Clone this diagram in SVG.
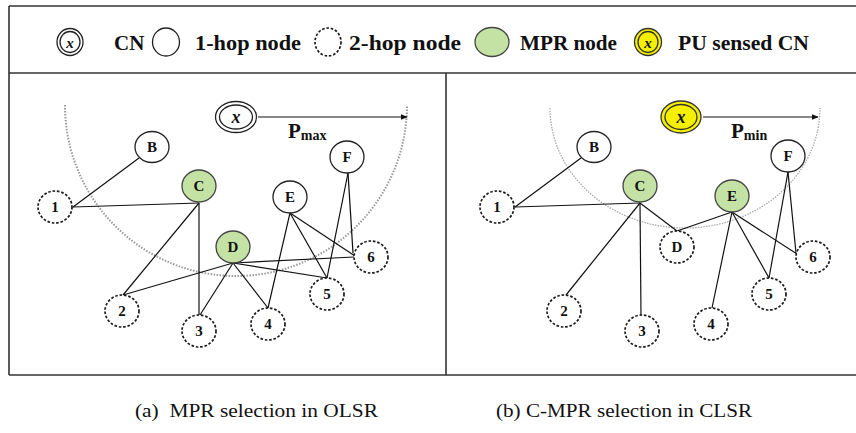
<svg xmlns="http://www.w3.org/2000/svg" width="856" height="433" viewBox="0 0 856 433">
  <style>
    .frame { stroke: #333; stroke-width: 1.6; fill: none; }
    .node { fill: #fff; stroke: #222; stroke-width: 1.3; }
    .hop2 { fill: #fff; stroke: #1a1a1a; stroke-width: 1.7; stroke-dasharray: 2.6 1.8; }
    .mpr { fill: #c3e2a4; stroke: #444; stroke-width: 1.3; }
    .pu { fill: #f5f000; stroke: #333; stroke-width: 1.3; }
    .lbl { font-family: 'Liberation Serif', 'Times New Roman', serif; font-weight: bold; font-size: 15px; text-anchor: middle; fill: #111; }
    .leg { font-family: 'Liberation Serif', 'Times New Roman', serif; font-weight: bold; font-size: 21px; fill: #111; }
    .cap { font-family: 'Liberation Serif', 'Times New Roman', serif; font-size: 19px; fill: #111; }
    .xv { font-family: 'Liberation Serif', 'Times New Roman', serif; font-weight: bold; font-style: italic; text-anchor: middle; fill: #111; }
    .edge { stroke: #111; stroke-width: 1.2; fill: none; }
    .range1 { stroke: #999; stroke-width: 2; stroke-dasharray: 1.5 1.5; fill: none; }
    .range2 { stroke: #aaa; stroke-width: 1.3; stroke-dasharray: 1.5 1.2; fill: none; }
  </style>
  <defs>
    <marker id="arrow" viewBox="0 0 10 10" refX="9" refY="5" markerWidth="7" markerHeight="7" orient="auto" markerUnits="userSpaceOnUse">
      <path d="M0,1 L10,5 L0,9 Z" fill="#111"/>
    </marker>
  </defs>

  <!-- frame -->
  <g id="frame">
    <line class="frame" x1="9" y1="6" x2="856" y2="6"/>
    <line class="frame" x1="9" y1="73" x2="856" y2="73"/>
    <line class="frame" x1="9" y1="375" x2="856" y2="375"/>
    <line class="frame" x1="9" y1="6" x2="9" y2="375"/>
    <line class="frame" x1="446" y1="73" x2="446" y2="375"/>
  </g>

  <!-- legend -->
  <g id="legend">
    <ellipse class="node" cx="70" cy="42" rx="13" ry="13.5"/>
    <ellipse class="node" cx="70" cy="42" rx="10" ry="10.5"/>
    <text class="xv" x="70" y="47.5" font-size="15">x</text>
    <text class="leg" x="114" y="50">CN</text>
    <ellipse class="node" cx="166" cy="42" rx="13.5" ry="14"/>
    <text class="leg" x="195" y="50" textLength="106" lengthAdjust="spacingAndGlyphs">1-hop node</text>
    <ellipse class="hop2" cx="328" cy="42" rx="13" ry="14"/>
    <text class="leg" x="349" y="50" textLength="112" lengthAdjust="spacingAndGlyphs">2-hop node</text>
    <ellipse class="mpr" cx="492" cy="42" rx="17" ry="14.5"/>
    <text class="leg" x="520" y="50" textLength="97" lengthAdjust="spacingAndGlyphs">MPR node</text>
    <ellipse class="pu" cx="648" cy="42" rx="13.5" ry="13.5"/>
    <ellipse class="pu" cx="648" cy="42" rx="10" ry="10.5"/>
    <text class="xv" x="648" y="47.5" font-size="15">x</text>
    <text class="leg" x="678" y="50" textLength="131" lengthAdjust="spacingAndGlyphs">PU sensed CN</text>
  </g>

  <!-- (a) transmission range -->
  <path class="range1" d="M65,105 A171,171 0 0 0 407,105"/>
  <!-- (b) transmission range -->
  <path class="range2" d="M550,108 A135,120 0 1 0 820,108"/>

  <!-- connectors -->
  <g id="connectors">
    <!-- (a) -->
    <line class="edge" x1="258" y1="117" x2="407" y2="117" marker-end="url(#arrow)"/>
    <line class="edge" x1="73" y1="207" x2="139" y2="158"/>
    <line class="edge" x1="73" y1="207" x2="199" y2="203"/>
    <line class="edge" x1="199" y1="203" x2="123" y2="295"/>
    <line class="edge" x1="199" y1="203" x2="199" y2="315"/>
    <line class="edge" x1="233" y1="263" x2="123" y2="295"/>
    <line class="edge" x1="233" y1="263" x2="200" y2="315"/>
    <line class="edge" x1="233" y1="263" x2="268" y2="308"/>
    <line class="edge" x1="233" y1="263" x2="354" y2="257"/>
    <line class="edge" x1="233" y1="263" x2="327" y2="278"/>
    <line class="edge" x1="290" y1="213" x2="268" y2="308"/>
    <line class="edge" x1="290" y1="213" x2="327" y2="278"/>
    <line class="edge" x1="290" y1="213" x2="355" y2="256"/>
    <line class="edge" x1="348" y1="173" x2="327" y2="278"/>
    <line class="edge" x1="348" y1="173" x2="353" y2="253"/>
    <!-- (b) -->
    <line class="edge" x1="703" y1="117" x2="818" y2="117" marker-end="url(#arrow)"/>
    <line class="edge" x1="515" y1="207" x2="581" y2="158"/>
    <line class="edge" x1="515" y1="207" x2="640" y2="203"/>
    <line class="edge" x1="640" y1="203" x2="566" y2="295"/>
    <line class="edge" x1="640" y1="203" x2="641" y2="315"/>
    <line class="edge" x1="640" y1="203" x2="677" y2="231"/>
    <line class="edge" x1="732" y1="212" x2="677" y2="231"/>
    <line class="edge" x1="732" y1="212" x2="712" y2="308"/>
    <line class="edge" x1="732" y1="212" x2="769" y2="278"/>
    <line class="edge" x1="732" y1="212" x2="797" y2="254"/>
    <line class="edge" x1="788" y1="172" x2="769" y2="278"/>
    <line class="edge" x1="788" y1="172" x2="796" y2="253"/>
  </g>

  <!-- (a) nodes -->
  <g id="a-cn">
    <ellipse class="node" cx="236" cy="117" rx="20.5" ry="15.5"/>
    <ellipse class="node" cx="236" cy="117" rx="16.5" ry="12"/>
    <text class="xv" x="236" y="123" font-size="18">x</text>
  </g>
  <g id="a-pmax">
    <text class="leg" x="288" y="138" font-size="25">P<tspan font-size="14" dy="2">max</tspan></text>
  </g>
  <g id="a-B"><ellipse class="node" cx="152" cy="147" rx="17" ry="15.5"/><text class="lbl" x="152" y="152">B</text></g>
  <g id="a-C"><ellipse class="mpr" cx="199" cy="186" rx="17" ry="16"/><text class="lbl" x="199" y="191">C</text></g>
  <g id="a-E"><ellipse class="node" cx="290" cy="197" rx="17" ry="16"/><text class="lbl" x="290" y="202">E</text></g>
  <g id="a-F"><ellipse class="node" cx="347" cy="157" rx="17" ry="16"/><text class="lbl" x="347" y="162">F</text></g>
  <g id="a-D"><ellipse class="mpr" cx="233" cy="247" rx="17" ry="16"/><text class="lbl" x="233" y="252">D</text></g>
  <g id="a-1"><ellipse class="hop2" cx="55" cy="207" rx="17" ry="16"/><text class="lbl" x="55" y="212">1</text></g>
  <g id="a-2"><ellipse class="hop2" cx="122" cy="311" rx="17" ry="16"/><text class="lbl" x="122" y="316">2</text></g>
  <g id="a-3"><ellipse class="hop2" cx="199" cy="331" rx="17" ry="16"/><text class="lbl" x="199" y="336">3</text></g>
  <g id="a-4"><ellipse class="hop2" cx="268" cy="324" rx="17" ry="16"/><text class="lbl" x="268" y="329">4</text></g>
  <g id="a-5"><ellipse class="hop2" cx="327" cy="294" rx="17" ry="16"/><text class="lbl" x="327" y="299">5</text></g>
  <g id="a-6"><ellipse class="hop2" cx="371" cy="257" rx="17" ry="16"/><text class="lbl" x="371" y="262">6</text></g>

  <!-- (b) nodes -->
  <g id="b-cn">
    <ellipse class="pu" cx="681" cy="117" rx="20" ry="16"/>
    <ellipse class="pu" cx="681" cy="117" rx="16" ry="12.5"/>
    <text class="xv" x="681" y="123" font-size="18">x</text>
  </g>
  <g id="b-pmin">
    <text class="leg" x="731" y="138" font-size="25">P<tspan font-size="14" dy="2">min</tspan></text>
  </g>
  <g id="b-B"><ellipse class="node" cx="594" cy="147" rx="17" ry="15.5"/><text class="lbl" x="594" y="152">B</text></g>
  <g id="b-C"><ellipse class="mpr" cx="640" cy="186" rx="17" ry="16"/><text class="lbl" x="640" y="191">C</text></g>
  <g id="b-E"><ellipse class="mpr" cx="732" cy="196" rx="17" ry="16"/><text class="lbl" x="732" y="201">E</text></g>
  <g id="b-F"><ellipse class="node" cx="788" cy="156" rx="17" ry="16"/><text class="lbl" x="788" y="161">F</text></g>
  <g id="b-D"><ellipse class="hop2" cx="677" cy="247" rx="17" ry="16"/><text class="lbl" x="677" y="252">D</text></g>
  <g id="b-1"><ellipse class="hop2" cx="497" cy="207" rx="17" ry="16"/><text class="lbl" x="497" y="212">1</text></g>
  <g id="b-2"><ellipse class="hop2" cx="564" cy="311" rx="17" ry="16"/><text class="lbl" x="564" y="316">2</text></g>
  <g id="b-3"><ellipse class="hop2" cx="642" cy="331" rx="17" ry="16"/><text class="lbl" x="642" y="336">3</text></g>
  <g id="b-4"><ellipse class="hop2" cx="711" cy="324" rx="17" ry="16"/><text class="lbl" x="711" y="329">4</text></g>
  <g id="b-5"><ellipse class="hop2" cx="769" cy="294" rx="17" ry="16"/><text class="lbl" x="769" y="299">5</text></g>
  <g id="b-6"><ellipse class="hop2" cx="813" cy="257" rx="17" ry="16"/><text class="lbl" x="813" y="262">6</text></g>

  <!-- captions -->
  <text class="cap" x="135" y="417" textLength="243" lengthAdjust="spacingAndGlyphs" xml:space="preserve">(a)  MPR selection in OLSR</text>
  <text class="cap" x="496" y="417" textLength="256" lengthAdjust="spacingAndGlyphs">(b) C-MPR selection in CLSR</text>
</svg>
